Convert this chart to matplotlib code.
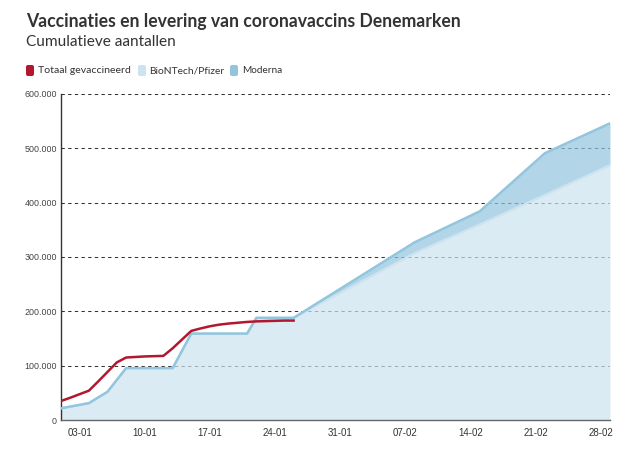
import matplotlib
matplotlib.use('Agg')
import matplotlib.pyplot as plt
import matplotlib.dates as mdates
import matplotlib.ticker as mticker
from matplotlib.patches import FancyBboxPatch
from matplotlib.transforms import IdentityTransform
import pandas as pd

# ---- data ----
vacc_dates = pd.date_range('2021-01-01', '2021-01-26')
vacc_total = [35000, 41000, 47500, 54000, 71000, 88500, 106000, 115000, 116000,
              117000, 117500, 118000, 132000, 148000, 164000, 168500, 172500,
              175500, 177500, 179000, 180500, 181500, 182000, 182500, 183000, 183000]

deliv_dates = pd.to_datetime(['2021-01-01', '2021-01-04', '2021-01-06', '2021-01-08',
                              '2021-01-13', '2021-01-15', '2021-01-21', '2021-01-22',
                              '2021-01-26', '2021-02-01', '2021-02-08', '2021-02-15',
                              '2021-02-22', '2021-03-01'])
pfizer = [21500, 31000, 52000, 95500, 95500, 159000, 159000, 188000, 188000,
          243000, 307000, 360000, 414000, 469000]
moderna = [0, 0, 0, 0, 0, 0, 0, 0, 0, 9000, 20000, 24000, 77000, 77000]

tick_dates = pd.date_range('2021-01-03', '2021-02-28', freq='7D')
y_ticks = [0, 100000, 200000, 300000, 400000, 500000, 600000]

title = 'Vaccinaties en levering van coronavaccins Denemarken'
subtitle = 'Cumulatieve aantallen'
legend_labels = ['Totaal gevaccineerd', 'BioNTech/Pfizer', 'Moderna']

# ---- style ----
RED = '#b3172f'
PF_C = '#cde3ef'
MO_C = '#92c5de'
W, H = 634, 449
DPI = 100

fig = plt.figure(figsize=(W / DPI, H / DPI), dpi=DPI)
ax = fig.add_axes([61 / W, 1 - 420 / H, (610 - 61) / W, (420 - 94) / H])

# grid under the areas
for v in y_ticks[1:]:
    ax.axhline(v, color='#333333', lw=0.75, dashes=(3.2, 3.2), zorder=1)

top = [p + m for p, m in zip(pfizer, moderna)]
ax.fill_between(deliv_dates, 0, pfizer, color=PF_C, alpha=0.7, lw=0, zorder=2)
ax.fill_between(deliv_dates, pfizer, top, color=MO_C, alpha=0.7, lw=0, zorder=2)
ax.plot(deliv_dates, pfizer, color=PF_C, lw=1.6, zorder=3, solid_joinstyle='round')
ax.plot(deliv_dates, top, color=MO_C, lw=1.8, zorder=4, solid_joinstyle='round')
ax.plot(vacc_dates, vacc_total, color=RED, lw=1.8, zorder=5, solid_joinstyle='round')

ax.set_xlim(pd.Timestamp('2021-01-01'), pd.Timestamp('2021-03-01'))
ax.set_ylim(0, 600000)
ax.set_xticks(tick_dates)
ax.xaxis.set_major_formatter(mdates.DateFormatter('%d-%m'))
ax.set_yticks(y_ticks)
ax.yaxis.set_major_formatter(mticker.FuncFormatter(lambda v, p: f'{int(v):,}'.replace(',', '.')))
ax.tick_params(axis='x', length=0, pad=6, labelsize=7, labelcolor='#333333')
ax.tick_params(axis='y', length=0, pad=3, labelsize=6.4, labelcolor='#444444')
for lab in ax.get_xticklabels() + ax.get_yticklabels():
    lab.set_fontfamily('Liberation Sans')

for s in ['top', 'right']:
    ax.spines[s].set_visible(False)
ax.spines['left'].set_color('#333333')
ax.spines['left'].set_linewidth(1.0)
ax.spines['bottom'].set_color('#666666')
ax.spines['bottom'].set_linewidth(1.0)
ax.set_facecolor('white')

def fy(y):
    return 1 - y / H

t_title = fig.text(26 / W, fy(21), title, fontsize=12.5, fontweight='bold',
                   family='Lato', color='#333333', va='center', ha='left')
t_sub = fig.text(26 / W, fy(41.5), subtitle, fontsize=11, family='Lato',
                 color='#333333', va='center', ha='left')

fig.canvas.draw()
r = fig.canvas.get_renderer()
def fit(t, w):
    bb = t.get_window_extent(r)
    t.set_fontsize(t.get_fontsize() * w / bb.width)
fit(t_title, 436)
fit(t_sub, 150)

# legend
sw_x = [26, 138, 230]
tx_x = [38, 149, 242]
tx_w = [92, 75, 40]
sw_cols = [RED, PF_C, MO_C]
for sx, tx, tw, c, lab in zip(sw_x, tx_x, tx_w, sw_cols, legend_labels):
    p = FancyBboxPatch((sx, H - 76), 8, 11, boxstyle='round,pad=0,rounding_size=2',
                       transform=IdentityTransform(), facecolor=c, edgecolor='none')
    fig.patches.append(p)
    p.set_figure(fig)
    t = fig.text(tx / W, fy(70.5), lab, fontsize=7.5, family='Lato', color='#333333',
                 va='center', ha='left')
    fig.canvas.draw()
    fit(t, tw)

fig.savefig('out.png', dpi=DPI)
